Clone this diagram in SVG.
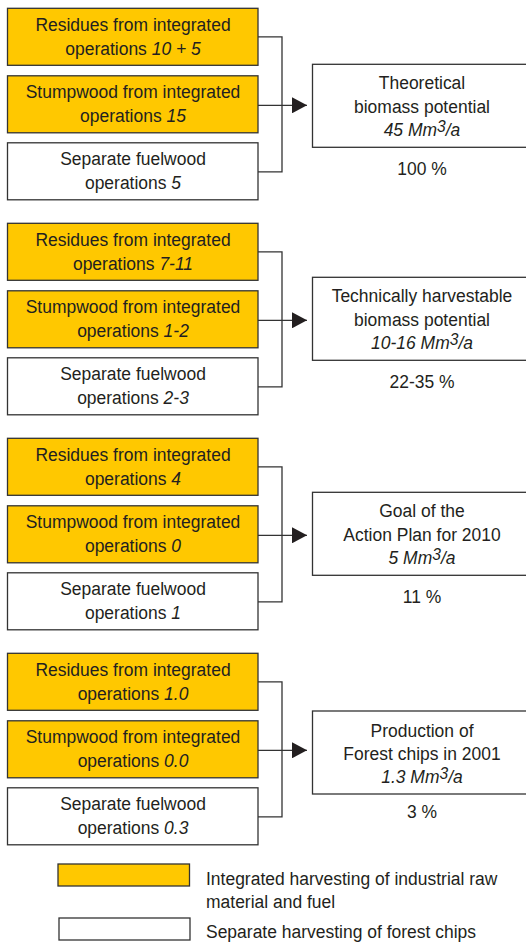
<svg xmlns="http://www.w3.org/2000/svg" width="526" height="942" viewBox="0 0 526 942">
<defs>
<style>
.y{fill:#FFC800;stroke:#333;stroke-width:1.3}
.w{fill:#fff;stroke:#333;stroke-width:1.3}
.c{fill:none;stroke:#333;stroke-width:1.3}
text{font-family:"Liberation Sans",Arial,sans-serif;font-size:19px;fill:#231f20;text-anchor:middle}
.l{text-anchor:start}
.i{font-style:italic}
</style>
<marker id="ah" viewBox="0 0 15 16" refX="15" refY="8" markerWidth="15" markerHeight="16" markerUnits="userSpaceOnUse" orient="auto"><path d="M0,0 L15,8 L0,16 Z" fill="#231f20"/></marker>
</defs>

<g id="connectors">
<path class="c" d="M258,36.8 H282 V171.8 H258"/>
<path class="c" d="M258,105.3 H307" marker-end="url(#ah)"/>
<path class="c" d="M258,251.8 H282 V386.8 H258"/>
<path class="c" d="M258,320.3 H307" marker-end="url(#ah)"/>
<path class="c" d="M258,466.8 H282 V601.8 H258"/>
<path class="c" d="M258,535.3 H307" marker-end="url(#ah)"/>
<path class="c" d="M258,681.8 H282 V816.8 H258"/>
<path class="c" d="M258,750.3 H307" marker-end="url(#ah)"/>
</g>

<!-- Group 1 -->
<g id="g1-residues"><rect class="y" x="7.5" y="8.3" width="250.5" height="57"/>
<text transform="translate(133 30.5) scale(0.92 1)">Residues from integrated</text>
<text transform="translate(133 54.5) scale(0.92 1)">operations <tspan class="i">10 + 5</tspan></text></g>
<g id="g1-stump"><rect class="y" x="7.5" y="75.8" width="250.5" height="57"/>
<text transform="translate(133 98) scale(0.92 1)">Stumpwood from integrated</text>
<text transform="translate(133 122) scale(0.92 1)">operations <tspan class="i">15</tspan></text></g>
<g id="g1-fuel"><rect class="w" x="7.5" y="142.8" width="250.5" height="57"/>
<text transform="translate(133 165) scale(0.92 1)">Separate fuelwood</text>
<text transform="translate(133 189) scale(0.92 1)">operations <tspan class="i">5</tspan></text></g>
<g id="g1-result"><rect class="w" x="312.5" y="64.3" width="220" height="83"/>
<text transform="translate(422 89) scale(0.92 1)">Theoretical</text>
<text transform="translate(422 112.5) scale(0.92 1)">biomass potential</text>
<text class="i" transform="translate(422 136) scale(0.92 1)">45 Mm<tspan font-size="17" dy="-4">3</tspan><tspan dy="4">/a</tspan></text>
<text transform="translate(422 175) scale(0.92 1)">100 %</text></g>

<!-- Group 2 -->
<g id="g2-residues"><rect class="y" x="7.5" y="223.3" width="250.5" height="57"/>
<text transform="translate(133 245.5) scale(0.92 1)">Residues from integrated</text>
<text transform="translate(133 269.5) scale(0.92 1)">operations <tspan class="i">7-11</tspan></text></g>
<g id="g2-stump"><rect class="y" x="7.5" y="290.8" width="250.5" height="57"/>
<text transform="translate(133 313) scale(0.92 1)">Stumpwood from integrated</text>
<text transform="translate(133 337) scale(0.92 1)">operations <tspan class="i">1-2</tspan></text></g>
<g id="g2-fuel"><rect class="w" x="7.5" y="357.8" width="250.5" height="57"/>
<text transform="translate(133 380) scale(0.92 1)">Separate fuelwood</text>
<text transform="translate(133 404) scale(0.92 1)">operations <tspan class="i">2-3</tspan></text></g>
<g id="g2-result"><rect class="w" x="312.5" y="277.3" width="220" height="83"/>
<text transform="translate(422 302) scale(0.92 1)">Technically harvestable</text>
<text transform="translate(422 325.5) scale(0.92 1)">biomass potential</text>
<text class="i" transform="translate(422 349) scale(0.92 1)">10-16 Mm<tspan font-size="17" dy="-4">3</tspan><tspan dy="4">/a</tspan></text>
<text transform="translate(422 388) scale(0.92 1)">22-35 %</text></g>

<!-- Group 3 -->
<g id="g3-residues"><rect class="y" x="7.5" y="438.3" width="250.5" height="57"/>
<text transform="translate(133 460.5) scale(0.92 1)">Residues from integrated</text>
<text transform="translate(133 484.5) scale(0.92 1)">operations <tspan class="i">4</tspan></text></g>
<g id="g3-stump"><rect class="y" x="7.5" y="505.8" width="250.5" height="57"/>
<text transform="translate(133 528) scale(0.92 1)">Stumpwood from integrated</text>
<text transform="translate(133 552) scale(0.92 1)">operations <tspan class="i">0</tspan></text></g>
<g id="g3-fuel"><rect class="w" x="7.5" y="572.8" width="250.5" height="57"/>
<text transform="translate(133 595) scale(0.92 1)">Separate fuelwood</text>
<text transform="translate(133 619) scale(0.92 1)">operations <tspan class="i">1</tspan></text></g>
<g id="g3-result"><rect class="w" x="312.5" y="492.3" width="220" height="83"/>
<text transform="translate(422 517) scale(0.92 1)">Goal of the</text>
<text transform="translate(422 540.5) scale(0.92 1)">Action Plan for 2010</text>
<text class="i" transform="translate(422 564) scale(0.92 1)">5 Mm<tspan font-size="17" dy="-4">3</tspan><tspan dy="4">/a</tspan></text>
<text transform="translate(422 603) scale(0.92 1)">11 %</text></g>

<!-- Group 4 -->
<g id="g4-residues"><rect class="y" x="7.5" y="653.3" width="250.5" height="57"/>
<text transform="translate(133 675.5) scale(0.92 1)">Residues from integrated</text>
<text transform="translate(133 699.5) scale(0.92 1)">operations <tspan class="i">1.0</tspan></text></g>
<g id="g4-stump"><rect class="y" x="7.5" y="720.8" width="250.5" height="57"/>
<text transform="translate(133 743) scale(0.92 1)">Stumpwood from integrated</text>
<text transform="translate(133 767) scale(0.92 1)">operations <tspan class="i">0.0</tspan></text></g>
<g id="g4-fuel"><rect class="w" x="7.5" y="787.8" width="250.5" height="57"/>
<text transform="translate(133 810) scale(0.92 1)">Separate fuelwood</text>
<text transform="translate(133 834) scale(0.92 1)">operations <tspan class="i">0.3</tspan></text></g>
<g id="g4-result"><rect class="w" x="312.5" y="711" width="220" height="83"/>
<text transform="translate(422 737) scale(0.92 1)">Production of</text>
<text transform="translate(422 760) scale(0.92 1)">Forest chips in 2001</text>
<text class="i" transform="translate(422 783) scale(0.92 1)">1.3 Mm<tspan font-size="17" dy="-4">3</tspan><tspan dy="4">/a</tspan></text>
<text transform="translate(422 818) scale(0.92 1)">3 %</text></g>

<!-- Legend -->
<g id="legend-integrated"><rect class="y" x="58" y="864" width="131.5" height="22"/>
<text class="l" transform="translate(206 885) scale(0.92 1)">Integrated harvesting of industrial raw</text>
<text class="l" transform="translate(206 908) scale(0.92 1)">material and fuel</text></g>
<g id="legend-separate"><rect class="w" x="59" y="918" width="131" height="22"/>
<text class="l" transform="translate(206 938) scale(0.92 1)">Separate harvesting of forest chips</text></g>
</svg>
